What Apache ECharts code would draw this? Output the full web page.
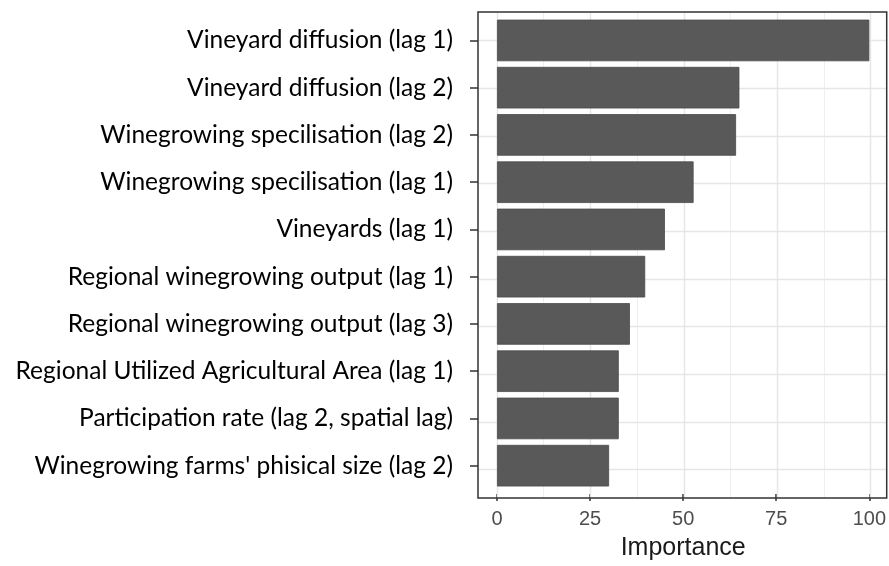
<!DOCTYPE html>
<html>
<head>
<meta charset="utf-8">
<script src="https://cdn.jsdelivr.net/npm/echarts@6/dist/echarts.min.js"></script>
<style>
  html, body { margin: 0; padding: 0; background: #fff; }
  #chart { width: 889px; height: 566px; }
</style>
</head>
<body>
<div id="chart"></div>
<script>
const categories = [
  'Vineyard diffusion (lag 1)',
  'Vineyard diffusion (lag 2)',
  'Winegrowing specilisation (lag 2)',
  'Winegrowing specilisation (lag 1)',
  'Vineyards (lag 1)',
  'Regional winegrowing output (lag 1)',
  'Regional winegrowing output (lag 3)',
  'Regional Utilized Agricultural Area (lag 1)',
  'Participation rate (lag 2, spatial lag)',
  "Winegrowing farms' phisical size (lag 2)"
]
const importance = [100, 65.1, 64.2, 52.8, 45.1, 39.8, 35.7, 32.7, 32.7, 30.1]
const majorTicks = [0, 25, 50, 75, 100]
const minorTicks = [12.5, 37.5, 62.5, 87.5]

const chart = echarts.init(document.getElementById('chart'))

// panel grid lines (ggplot style: major + minor, horizontal at category centres)
const gridLines = [
  ...minorTicks.map(v => ({ xAxis: v, lineStyle: { color: '#efefef', width: 1, type: 'solid' } })),
  ...majorTicks.map(v => ({ xAxis: v, lineStyle: { color: '#e6e6e6', width: 1.4, type: 'solid' } })),
  ...categories.map((c, i) => ({ yAxis: i, lineStyle: { color: '#e6e6e6', width: 1.4, type: 'solid' } }))
]

const tickStyle = { color: '#333', width: 1.5 }

chart.setOption({
  animation: false,
  grid: [
    // panel with border
    { left: 478, right: 2.3, top: 12, bottom: 68, show: true, borderColor: '#333', borderWidth: 1.5, backgroundColor: 'transparent', z: 10 },
    // data area
    { left: 497, right: 18.3, top: 16.8, bottom: 72.7 }
  ],
  xAxis: [
    { gridIndex: 0, type: 'value', min: -5.08, max: 104.28, show: false },
    {
      gridIndex: 1,
      type: 'value',
      position: 'bottom',
      min: 0,
      max: 100,
      interval: 25,
      offset: 4.7,
      name: 'Importance',
      nameLocation: 'middle',
      nameGap: 42,
      nameTextStyle: { fontFamily: 'Liberation Sans', fontSize: 25, color: '#1a1a1a' },
      axisLine: { show: false, onZero: false, lineStyle: tickStyle },
      axisTick: { show: true, length: 7, lineStyle: tickStyle },
      axisLabel: { fontFamily: 'Liberation Sans', fontSize: 20, color: '#4d4d4d', margin: 15 },
      splitLine: { show: false }
    }
  ],
  yAxis: [
    { gridIndex: 0, type: 'value', min: -0.6, max: 9.6, inverse: true, show: false },
    {
      gridIndex: 1,
      type: 'category',
      position: 'left',
      data: categories,
      inverse: true,
      offset: 19,
      axisLine: { show: false, onZero: false, lineStyle: tickStyle },
      axisTick: { show: true, alignWithLabel: true, length: 8, lineStyle: tickStyle },
      axisLabel: { fontFamily: 'Lato', fontSize: 24.5, color: '#000', margin: 25 },
      splitLine: { show: false }
    }
  ],
  series: [
    {
      type: 'line',
      xAxisIndex: 0,
      yAxisIndex: 0,
      data: [],
      silent: true,
      z: 1,
      markLine: {
        silent: true,
        z: 1,
        symbol: 'none',
        label: { show: false },
        emphasis: { disabled: true },
        data: gridLines
      }
    },
    {
      type: 'bar',
      xAxisIndex: 1,
      yAxisIndex: 1,
      data: importance,
      barCategoryGap: '12%',
      z: 3,
      itemStyle: { color: '#595959', borderColor: '#4a4a4a', borderWidth: 0.8 }
    }
  ]
})
</script>
</body>
</html>
